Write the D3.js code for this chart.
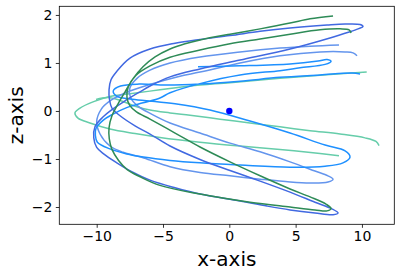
<!DOCTYPE html>
<html><head><meta charset="utf-8">
<script src="https://cdn.jsdelivr.net/npm/d3@7"></script>
<style>body{margin:0;background:#fff}svg{display:block}text{font-family:"DejaVu Sans",sans-serif;fill:#000}</style>
</head><body><svg id="c" width="401" height="276"></svg>
<script>
const xTicks = [-10, -5, 0, 5, 10];
const zTicks = [-2, -1, 0, 1, 2];
const xLabel = "x-axis", zLabel = "z-axis";
const center = [[0, 0]];

const royalPath = [[9.10,1.65],[9.71,1.71],[10.08,1.76],[9.86,1.80],[8.73,1.81],[7.37,1.79],[4.58,1.73],[2.32,1.66],[0.05,1.57],[-2.21,1.49],[-4.09,1.41],[-5.98,1.29],[-7.49,1.10],[-8.47,0.83],[-8.92,0.65],[-9.07,0.44],[-9.03,0.23],[-8.85,0.06],[-8.24,-0.10],[-7.11,-0.31],[-5.98,-0.48],[-4.47,-0.73],[-2.21,-1.01],[0.05,-1.24],[2.32,-1.46],[4.58,-1.69],[6.46,-1.90],[7.74,-2.04],[8.20,-2.125],[7.82,-2.16],[6.46,-2.125],[4.58,-2.06],[2.84,-1.98],[0.81,-1.875],[-2.21,-1.73],[-4.09,-1.60],[-5.98,-1.44],[-7.40,-1.26],[-8.49,-1.08],[-9.45,-0.90],[-10.0,-0.76],[-10.22,-0.56],[-10.13,-0.33],[-9.55,-0.13],[-8.85,0.03],[-7.87,0.21],[-6.73,0.40],[-5.98,0.52],[-4.47,0.71],[-2.21,0.875],[0.81,1.06],[4.58,1.29],[7.59,1.52],[9.10,1.65]];

const seaPath = [[7.82,1.98],[6.09,1.92],[4.58,1.83],[2.32,1.71],[0.05,1.60],[-2.21,1.48],[-3.34,1.40],[-4.47,1.29],[-5.60,1.125],[-6.51,0.92],[-7.26,0.67],[-7.86,0.40],[-8.39,0.15],[-8.85,-0.10],[-9.07,-0.35],[-9.05,-0.58],[-8.85,-0.80],[-8.35,-1.03],[-7.70,-1.22],[-6.73,-1.37],[-5.23,-1.55],[-2.21,-1.73],[1.56,-1.90],[4.58,-2.0],[6.46,-2.06],[7.37,-2.08],[7.67,-2.03],[7.29,-1.94],[6.09,-1.79],[4.58,-1.625],[2.32,-1.35],[0.05,-1.06],[-2.21,-0.75],[-4.09,-0.46],[-5.98,-0.17],[-7.00,-0.02],[-7.50,0.11],[-7.72,0.29],[-7.62,0.50],[-7.05,0.74],[-5.98,0.94],[-4.47,1.12],[-2.21,1.27],[0.05,1.40],[2.32,1.50],[4.58,1.60],[6.84,1.69],[8.35,1.71],[9.03,1.69],[9.18,1.625]];

const cornPath = [[8.27,1.375],[6.09,1.35],[3.82,1.31],[0.81,1.23],[-2.21,1.125],[-4.47,1.0],[-5.98,0.85],[-6.96,0.68],[-7.50,0.48],[-7.45,0.28],[-6.89,0.10],[-5.83,-0.07],[-4.47,-0.25],[-2.21,-0.46],[0.05,-0.67],[2.32,-0.85],[4.58,-1.06],[6.46,-1.25],[7.44,-1.35],[7.82,-1.42],[7.44,-1.48],[6.09,-1.50],[4.58,-1.48],[2.32,-1.42],[0.05,-1.35],[-2.21,-1.28],[-4.47,-1.16],[-6.45,-0.98],[-8.0,-0.86],[-9.0,-0.73],[-9.75,-0.48],[-10.0,-0.22],[-9.65,0.04],[-9.0,0.21],[-7.9,0.37],[-6.0,0.55],[-3.8,0.72],[-2.21,0.81],[0.81,1.0],[3.82,1.15],[6.84,1.23],[8.73,1.23],[9.33,1.21],[9.63,1.15]];

const dodgerPath = [[-2.36,0.92],[0.81,0.94],[4.58,0.98],[6.69,1.04],[7.37,1.07],[7.67,1.03],[7.22,0.97],[5.33,0.90],[3.82,0.84],[0.81,0.75],[-2.21,0.57],[-4.47,0.38],[-5.23,0.27],[-6.50,0.17],[-7.74,0.07],[-8.80,-0.07],[-9.50,-0.19],[-10.05,-0.36],[-10.10,-0.50],[-9.95,-0.65],[-9.0,-0.79],[-7.80,-0.89],[-6.48,-0.96],[-4.47,-1.03],[-2.21,-1.08],[0.81,-1.125],[4.58,-1.17],[7.22,-1.15],[8.57,-1.08],[9.10,-0.96],[8.73,-0.83],[7.22,-0.71],[4.58,-0.46],[1.56,-0.21],[-1.46,0.02],[-4.09,0.15],[-5.98,0.21],[-7.49,0.25],[-8.50,0.31],[-8.75,0.42],[-8.20,0.52],[-6.80,0.56],[-4.80,0.54],[-2.21,0.56],[0.81,0.62],[3.82,0.70],[6.84,0.75],[9.25,0.79],[9.86,0.77]];

const mintPathA = [[10.36,0.81],[7.59,0.76],[3.82,0.68],[0.05,0.59],[-2.96,0.52],[-5.23,0.44],[-7.49,0.36],[-9.0,0.30],[-10.28,0.19],[-11.26,0.06],[-11.64,-0.04],[-11.41,-0.15],[-10.51,-0.25],[-9.0,-0.375],[-7.11,-0.47],[-5.23,-0.55],[-2.21,-0.65],[0.81,-0.73],[3.82,-0.80],[6.84,-0.885],[8.27,-0.93]];

const mintPathB = [[11.29,-0.72],[11.06,-0.635],[10.23,-0.56],[8.35,-0.48],[6.09,-0.41],[3.82,-0.33],[1.56,-0.25],[-0.70,-0.17],[-2.96,-0.09],[-4.47,-0.04],[-5.98,0.02],[-7.11,0.10],[-8.24,0.22],[-9.15,0.28],[-10.05,0.24]];

const series = [
  {data: mintPathA, color: "#66cdaa"},
  {data: mintPathB, color: "#66cdaa"},
  {data: cornPath, color: "#6495ed"},
  {data: dodgerPath, color: "#1e90ff"},
  {data: royalPath, color: "#4169e1"},
  {data: seaPath, color: "#2e8b57"}
];

const L = 59.3, R = 394.3, T = 6.3, B = 224.3;
const x = d3.scaleLinear().domain([-12.82, 12.44]).range([L, R]);
const y = d3.scaleLinear().domain([-2.36, 2.18]).range([B, T]);
const svg = d3.select("#c");

svg.append("clipPath").attr("id","clp").append("rect")
  .attr("x", L).attr("y", T).attr("width", R-L).attr("height", B-T);

const line = d3.line().x(d => x(d[0])).y(d => y(d[1])).curve(d3.curveCatmullRom.alpha(0.5));
const g = svg.append("g").attr("clip-path","url(#clp)");
series.forEach(s => {
  g.append("path").attr("d", line(s.data)).attr("fill","none")
   .attr("stroke", s.color).attr("stroke-width", 1.5).attr("stroke-linejoin","round");
});
g.selectAll("circle").data(center).join("circle")
  .attr("cx", d => x(d[0])).attr("cy", d => y(d[1])).attr("r", 3.2).attr("fill", "#0000ff");

const fmt = d => d < 0 ? "\u2212" + Math.abs(d) : String(d);
const xAxis = svg.append("g").attr("transform", `translate(0,${B})`)
  .call(d3.axisBottom(x).tickValues(xTicks).tickFormat(fmt).tickSizeInner(3.5).tickSizeOuter(0).tickPadding(3.5));
const yAxis = svg.append("g").attr("transform", `translate(${L},0)`)
  .call(d3.axisLeft(y).tickValues(zTicks).tickFormat(fmt).tickSizeInner(3.5).tickSizeOuter(0).tickPadding(3.5));
[xAxis, yAxis].forEach(a => {
  a.select(".domain").remove();
  a.selectAll("line").attr("stroke","#000").attr("stroke-width",0.8);
  a.selectAll("text").attr("font-size", 14).attr("font-family","DejaVu Sans").attr("fill","#000");
});

svg.append("rect").attr("x", L).attr("y", T).attr("width", R-L).attr("height", B-T)
  .attr("fill","none").attr("stroke","#000").attr("stroke-width",0.8);

svg.append("text").attr("x", (L+R)/2).attr("y", 266).attr("text-anchor","middle")
  .attr("font-size", 20).text(xLabel);
svg.append("text").attr("transform", `translate(23,${(T+B)/2}) rotate(-90)`).attr("text-anchor","middle")
  .attr("font-size", 20).text(zLabel);
</script></body></html>
